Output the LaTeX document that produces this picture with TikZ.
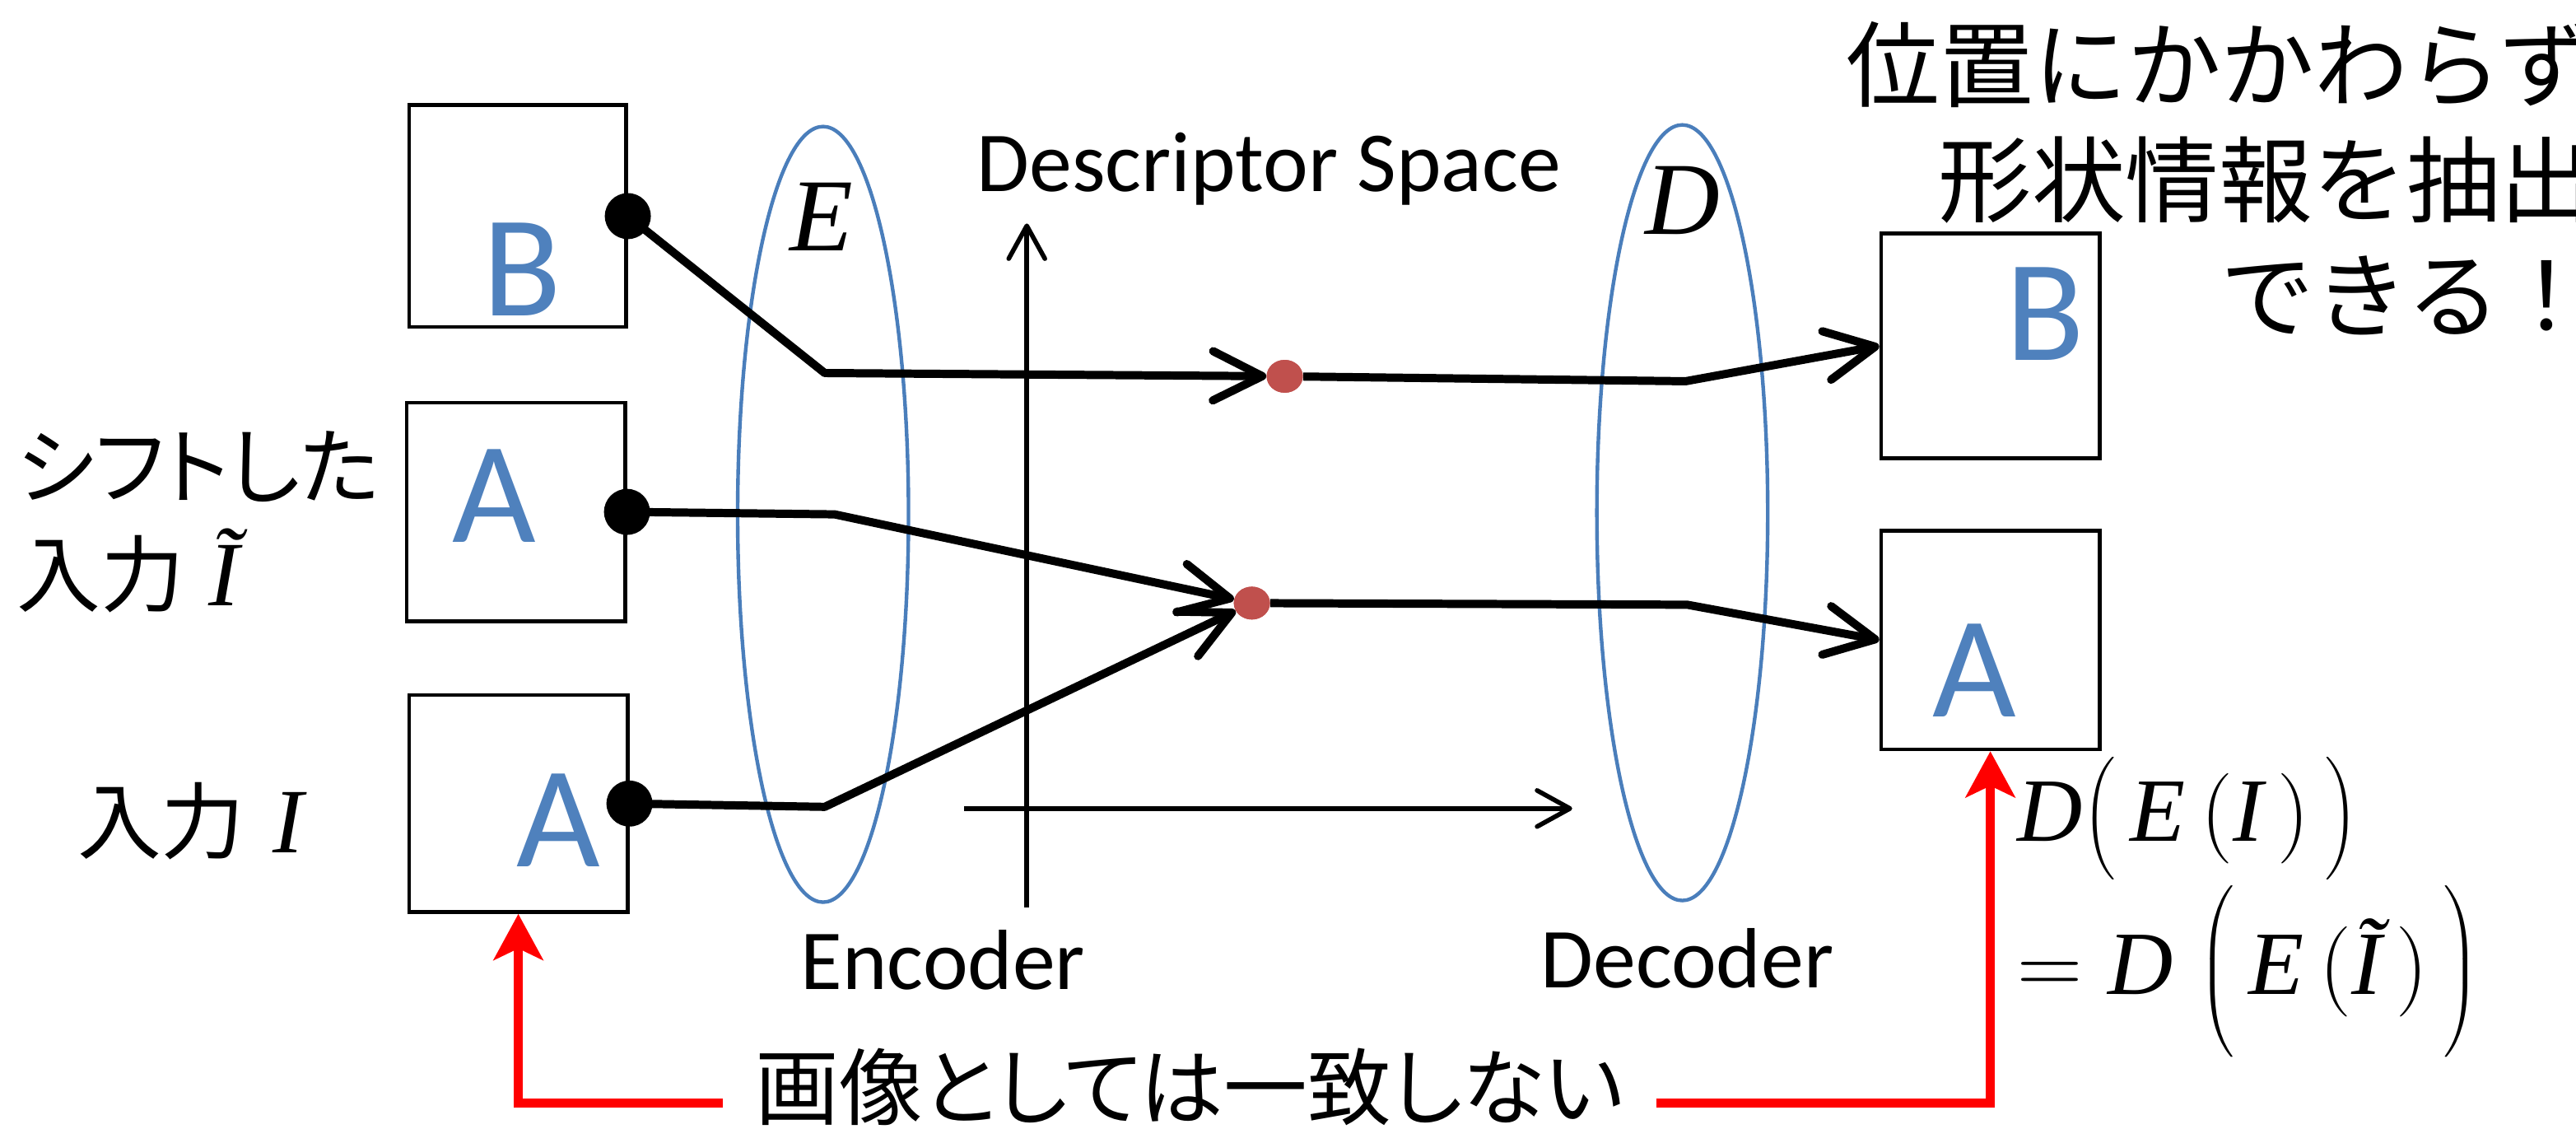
\RequirePackage{fix-cm}
\documentclass[tikz,border=0pt]{standalone}
\usepackage{amsmath}
\usepackage[no-math]{fontspec}
\setmainfont{Carlito}
\newfontfamily\jp{Noto Sans CJK JP}
\newfontfamily\jpp[RawFeature=+palt]{Noto Sans CJK JP}
\newfontfamily\libit{Liberation Serif}[UprightFont=*-Italic]
\newcommand{\mletter}[1]{\text{\libit #1}}
\usetikzlibrary{arrows.meta,shapes.geometric}
\definecolor{letterblue}{HTML}{4F81BD}
\definecolor{ellblue}{HTML}{4A7EBB}
\definecolor{dotred}{HTML}{C0504D}
\begin{document}
\begin{tikzpicture}[x=1pt,y=-1pt,
  imgbox/.style={draw, line width=2.3pt, rectangle, inner sep=0pt},
  letter/.style={text=letterblue, font=\fontsize{88}{88}\selectfont, inner sep=0pt},
  port/.style={circle, fill=black, minimum size=28pt, inner sep=0pt},
  code/.style={ellipse, fill=dotred, minimum width=22pt, minimum height=20pt, inner sep=0pt},
  netell/.style={ellipse, draw=ellblue, line width=2.2pt, minimum width=104pt, minimum height=472pt, inner sep=0pt},
  conn/.style={line width=5pt, line join=round},
  connarrow/.style={conn, -{Straight Barb[length=30pt,width=30pt,round]}},
  axisline/.style={line width=2.8pt, -{Straight Barb[length=20pt,width=22pt,round]}},
  mismatch/.style={draw=red, line width=5.5pt, -{Stealth[length=28pt,width=30pt,inset=7pt]}},
  lbl/.style={inner sep=0pt, font=\fontsize{52}{60}\selectfont},
  jlbl/.style={inner sep=0pt, font=\jpp\fontsize{51}{62}\selectfont},
  mathlbl/.style={inner sep=0pt, font=\fontsize{55}{62}\selectfont}
]
\useasboundingbox (0,0) rectangle (1568,687);

% encoder / decoder ellipses
\node[netell] (encE) at (501,313) {};
\node[netell] (decD) at (1024,312) {};
\node[inner sep=0pt, font=\libit\fontsize{63}{63}\selectfont] (lE) at (500,132) {E};
\node[inner sep=0pt, font=\libit\fontsize{63}{63}\selectfont] (lD) at (1024,122) {D};

% descriptor space axes
\coordinate (vb) at (625,552);
\coordinate (vt) at (625,136);
\coordinate (hl) at (587,492);
\coordinate (hr) at (957,492);
\draw[axisline] (vb) -- (vt);
\draw[axisline] (hl) -- (hr);
\node[lbl, anchor=base] (dspace) at (772.5,116.6) {Descriptor Space};
\node[lbl, anchor=base] (enc) at (574,602) {Encoder};
\node[lbl, anchor=base] (dec) at (1027,601) {Decoder};

% image boxes
\node[imgbox, minimum width=132pt, minimum height=135pt] (boxB) at (315,131.5) {};
\node[imgbox, minimum width=133pt, minimum height=133pt] (boxSA) at (314,311.5) {};
\node[imgbox, minimum width=133pt, minimum height=132pt] (boxIA) at (315.5,489) {};
\node[imgbox, minimum width=133pt, minimum height=137pt] (boxRB) at (1211.5,210.5) {};
\node[imgbox, minimum width=133pt, minimum height=133pt] (boxRA) at (1211.5,389.5) {};

\node[letter] (tB) at (318,164) {B};
\node[letter] (tSA) at (301,302) {A};
\node[letter] (tIA) at (340,499) {A};
\node[letter] (tRB) at (1245,191) {B};
\node[letter] (tRA) at (1202,408) {A};

% codes
\coordinate (jB) at (502,227);
\coordinate (jSA) at (508,313);
\coordinate (jIA) at (502,491);
\coordinate (dB) at (1026,232);
\coordinate (dA) at (1027,368);
\node[code] (zB) at (782,229) {};
\node[code] (zA) at (762,367) {};

\draw[connarrow] (boxB.east) -- (jB) -- (zB);
\draw[connarrow] (boxSA.east) -- (jSA) -- (zA);
\draw[connarrow] (boxIA.east) -- (jIA) -- (zA);
\draw[connarrow] (zB) -- (dB) -- (boxRB.west);
\draw[connarrow] (zA) -- (dA) -- (boxRA.west);

\node[port] (pB) at (boxB.east) {};
\node[port] (pSA) at (boxSA.east) {};
\node[port] (pIA) at (boxIA.east) {};
\node[code] at (zB) {};
\node[code] at (zA) {};

% left labels
\node[jlbl, anchor=base west] (shifted) at (10,303) {\begin{tabular}[t]{@{}l@{}}シフトした\\入力\hspace{15pt}{\fontsize{56}{62}\selectfont\libit Ĩ}\end{tabular}};
\node[jlbl, anchor=base west] (input) at (47,519) {入力\hspace{17pt}{\fontsize{56}{62}\selectfont\libit I}};

% top right claim
\node[inner sep=0pt, anchor=base east, font=\jp\fontsize{57}{70}\selectfont] (claim) at (1579,61)
  {\begin{tabular}[t]{@{}r@{}}位置にかかわらず\\形状情報を抽出\\できる！\end{tabular}};

% equation
\node[mathlbl, anchor=base west] (eq1) at (1228,512) {$\mletter{D}\big(\,\mletter{E}\,(\mletter{I}\,)\,\big)$};
\node[mathlbl, anchor=base west] (eq2) at (1228,605) {$= \mletter{D}\;\Big(\,\mletter{E}\,(\mletter{Ĩ}\,)\,\Big)$};

% mismatch connector
\node[jlbl, anchor=base] (nomatch) at (724,681) {画像としては一致しない};
\coordinate (rl) at (440,671);
\coordinate (rr) at (1008,671);
\draw[mismatch] (rl) -| (boxIA.south);
\draw[mismatch] (rr) -| (boxRA.south);
\end{tikzpicture}
\end{document}
